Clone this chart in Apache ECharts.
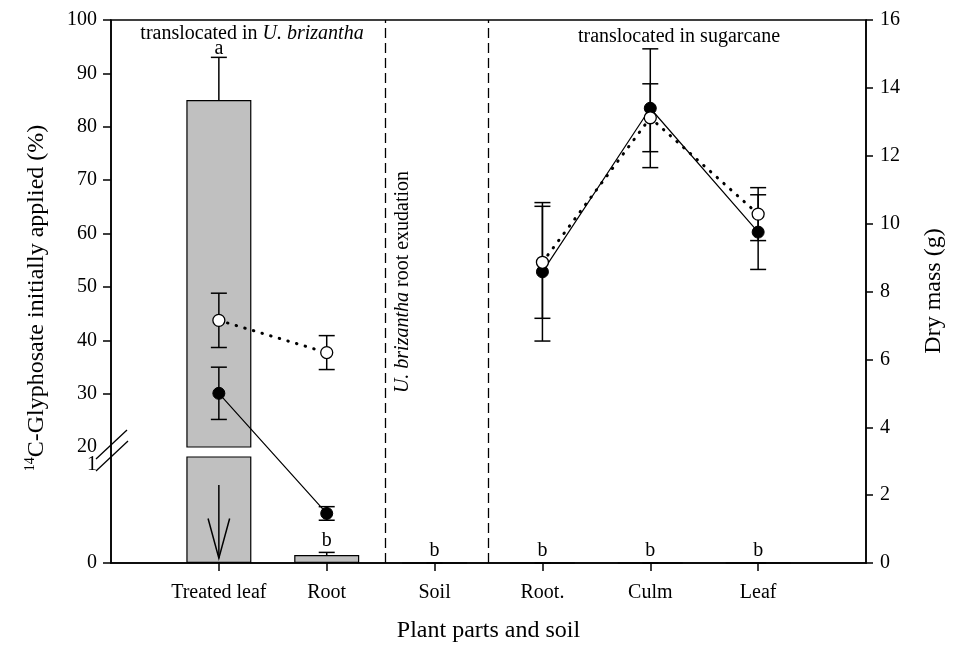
<!DOCTYPE html>
<html>
<head>
<meta charset="utf-8">
<script src="https://cdn.jsdelivr.net/npm/echarts@6/dist/echarts.min.js"></script>
<style>html,body{margin:0;padding:0;background:#fff}#c{width:959px;height:654px}</style>
</head>
<body>
<div id="c"></div>
<script>
// ---- data ----
const categories = ['Treated leaf', 'Root', 'Soil', 'Root.', 'Culm', 'Leaf'];
const pctMean = [85, 0.075, 0, 0, 0, 0];          // 14C-glyphosate (%) bars
const pctErr = [8, 0.025, 0, 0, 0, 0];
const pctLetters = ['a', 'b', 'b', 'b', 'b', 'b'];
const dryClosed = [5.0, 1.46, null, 8.58, 13.40, 9.75];   // dry mass (g), filled circles
const dryClosedErr = [0.77, 0.2, null, 2.04, 1.75, 1.1];
const dryOpen = [7.15, 6.2, null, 8.86, 13.12, 10.28];     // dry mass (g), open circles
const dryOpenErr = [0.8, 0.5, null, 1.65, 1.0, 0.78];
const leftUpperTicks = [20, 30, 40, 50, 60, 70, 80, 90, 100];
const leftLowerTicks = [0, 1];
const rightTicks = [0, 2, 4, 6, 8, 10, 12, 14, 16];

// ---- helpers ----
const FONT = 'Liberation Serif, Times New Roman, serif';
const pos = categories.map((c, i) => i + 1);
const barData = pctMean.map((v, i) => [i + 1, v]);
const pctErrAll = pctMean.map((v, i) => [i + 1, v, pctErr[i], i]);
const pctErrUpper = pctErrAll.filter(d => d[1] >= leftUpperTicks[0]);
const pctErrLower = pctErrAll.filter(d => d[1] < leftLowerTicks[1]);
const toLine = (arr) => arr.map((v, i) => [i + 1, v == null ? '-' : v]);
const toErr = (arr, err) => arr.map((v, i) => v == null ? null : [i + 1, v, err[i]]).filter(Boolean);

const black = '#000';
function pctErrRender(params, api) {
  const x = api.value(0), m = api.value(1), e = api.value(2), idx = api.value(3);
  const b = api.coord([x, m]);
  const t = api.coord([x, m + e]);
  const ls = { stroke: black, lineWidth: 1.5 };
  return {
    type: 'group',
    children: [
      { type: 'line', shape: { x1: b[0], y1: b[1], x2: t[0], y2: t[1] }, style: ls },
      { type: 'line', shape: { x1: t[0] - 8, y1: t[1], x2: t[0] + 8, y2: t[1] }, style: ls },
      { type: 'text', x: t[0], y: t[1] - (e > 1 ? -1 : 2), style: { text: pctLetters[idx], fontSize: 20, fontFamily: FONT, fill: black, align: 'center', verticalAlign: 'bottom' } }
    ]
  };
}
function dryErrRender(params, api) {
  const x = api.value(0), m = api.value(1), e = api.value(2);
  const t = api.coord([x, m + e]);
  const b = api.coord([x, m - e]);
  const ls = { stroke: black, lineWidth: 1.5 };
  return {
    type: 'group',
    children: [
      { type: 'line', shape: { x1: t[0], y1: t[1], x2: b[0], y2: b[1] }, style: ls },
      { type: 'line', shape: { x1: t[0] - 8, y1: t[1], x2: t[0] + 8, y2: t[1] }, style: ls },
      { type: 'line', shape: { x1: b[0] - 8, y1: b[1], x2: b[0] + 8, y2: b[1] }, style: ls }
    ]
  };
}
// down arrow inside the treated-leaf bar (lower segment)
const arrowSpec = [[1, 0.735, 0.045, 0.42, 0.1]];
function arrowRender(params, api) {
  const x = api.value(0), y0 = api.value(1), y1 = api.value(2), yw = api.value(3), dx = api.value(4);
  const a = api.coord([x, y0]), tip = api.coord([x, y1]);
  const l = api.coord([x - dx, yw]), r = api.coord([x + dx, yw]);
  const ls = { stroke: black, lineWidth: 1.5, fill: null };
  return {
    type: 'group',
    children: [
      { type: 'line', shape: { x1: a[0], y1: a[1], x2: tip[0], y2: tip[1] }, style: ls },
      { type: 'polyline', shape: { points: [l, tip, r] }, style: ls }
    ]
  };
}
// axis break marks on the left axis
function breakRender(params, api) {
  const p = api.coord([0, leftLowerTicks[1]]);
  const ls = { stroke: black, lineWidth: 1.3 };
  return {
    type: 'group',
    children: [
      { type: 'line', shape: { x1: p[0] - 15, y1: p[1] + 2, x2: p[0] + 16, y2: p[1] - 27 }, style: ls },
      { type: 'line', shape: { x1: p[0] - 15, y1: p[1] + 14, x2: p[0] + 17, y2: p[1] - 16 }, style: ls }
    ]
  };
}

const axisLineStyle = { color: black, width: 1.5 };
const labelStyle = { color: black, fontSize: 20, fontFamily: FONT };

const option = {
  animation: false,
  backgroundColor: '#fff',
  grid: [
    { left: 111, right: 93, top: 20, bottom: 91, show: true, borderColor: black, borderWidth: 1.5, backgroundColor: 'transparent' },
    { left: 111, right: 93, top: 20, height: 427 },
    { left: 111, right: 93, top: 457, bottom: 91 }
  ],
  xAxis: [
    {
      gridIndex: 0, type: 'value', min: 0, max: categories.length + 1, interval: 1,
      axisLine: { onZero: false, lineStyle: axisLineStyle },
      axisTick: { customValues: pos, length: 8, lineStyle: axisLineStyle },
      axisLabel: Object.assign({ customValues: pos, margin: 20, formatter: v => categories[v - 1] || '' }, labelStyle),
      splitLine: { show: false },
      name: 'Plant parts and soil', nameLocation: 'middle', nameGap: 56,
      nameTextStyle: { color: black, fontSize: 24, fontFamily: FONT }
    },
    { gridIndex: 1, type: 'value', min: 0, max: categories.length + 1, show: false, axisLine: { onZero: false } },
    { gridIndex: 2, type: 'value', min: 0, max: categories.length + 1, show: false, axisLine: { onZero: false } }
  ],
  yAxis: [
    {
      gridIndex: 0, type: 'value', position: 'left', min: 0, max: 1,
      axisLine: { show: true, onZero: false, lineStyle: axisLineStyle },
      axisTick: { show: false }, axisLabel: { show: false }, splitLine: { show: false }
    },
    {
      gridIndex: 0, type: 'value', position: 'right', min: 0, max: 16, interval: 2,
      axisLine: { show: true, onZero: false, lineStyle: axisLineStyle },
      axisTick: { show: true, inside: false, length: 7, lineStyle: axisLineStyle },
      axisLabel: Object.assign({ customValues: rightTicks, margin: 14 }, labelStyle),
      splitLine: { show: false }
    },
    {
      gridIndex: 1, type: 'value', min: 20, max: 100, interval: 10,
      axisLine: { show: false, onZero: false },
      axisTick: { show: true, customValues: leftUpperTicks.slice(1), length: 8, lineStyle: axisLineStyle },
      axisLabel: Object.assign({ customValues: leftUpperTicks, margin: 14 }, labelStyle),
      splitLine: { show: false }
    },
    {
      gridIndex: 2, type: 'value', min: 0, max: 1, interval: 1,
      axisLine: { show: false, onZero: false },
      axisTick: { show: true, customValues: [leftLowerTicks[0]], length: 8, lineStyle: axisLineStyle },
      axisLabel: Object.assign({
        customValues: leftLowerTicks, margin: 14,
        formatter: v => v === leftLowerTicks[1] ? '{lo|' + v + '}' : String(v),
        rich: { lo: { fontSize: 20, fontFamily: FONT, color: black, padding: [16, 0, 0, 0] } }
      }, labelStyle),
      splitLine: { show: false }
    }
  ],
  series: [
    {
      type: 'bar', xAxisIndex: 1, yAxisIndex: 2, data: barData, barWidth: 65, clip: true, z: 2,
      itemStyle: { color: '#c0c0c0', borderColor: black, borderWidth: 1.2 }
    },
    {
      type: 'bar', xAxisIndex: 2, yAxisIndex: 3, data: barData, barWidth: 65, clip: true, z: 2,
      itemStyle: { color: '#c0c0c0', borderColor: black, borderWidth: 1.2 }
    },
    { type: 'custom', xAxisIndex: 1, yAxisIndex: 2, data: pctErrUpper, renderItem: pctErrRender, z: 3, silent: true },
    { type: 'custom', xAxisIndex: 2, yAxisIndex: 3, data: pctErrLower, renderItem: pctErrRender, z: 3, silent: true },
    { type: 'custom', xAxisIndex: 2, yAxisIndex: 3, data: arrowSpec, renderItem: arrowRender, z: 4, silent: true },
    { type: 'custom', xAxisIndex: 2, yAxisIndex: 3, data: [[0, leftLowerTicks[1]]], renderItem: breakRender, z: 10, silent: true, clip: false },
    { type: 'custom', xAxisIndex: 0, yAxisIndex: 1, data: toErr(dryClosed, dryClosedErr), renderItem: dryErrRender, z: 5, silent: true },
    { type: 'custom', xAxisIndex: 0, yAxisIndex: 1, data: toErr(dryOpen, dryOpenErr), renderItem: dryErrRender, z: 5, silent: true },
    {
      type: 'line', name: 'closed', xAxisIndex: 0, yAxisIndex: 1, data: toLine(dryClosed), z: 6,
      symbol: 'circle', symbolSize: 12, showAllSymbol: true,
      lineStyle: { color: black, width: 1.2 },
      itemStyle: { color: black, borderColor: black, borderWidth: 1 },
      markLine: {
        silent: true, symbol: ['none', 'none'], label: { show: false },
        lineStyle: { color: black, width: 1.3, type: [10, 5] },
        data: [{ xAxis: 2.54 }, { xAxis: 3.5 }]
      }
    },
    {
      type: 'line', name: 'open', xAxisIndex: 0, yAxisIndex: 1, data: toLine(dryOpen), z: 7,
      symbol: 'circle', symbolSize: 12, showAllSymbol: true,
      lineStyle: { color: black, width: 3, type: [0.5, 8.5], cap: 'round' },
      itemStyle: { color: '#fff', borderColor: black, borderWidth: 1.3 }
    }
  ],
  graphic: [
    {
      type: 'text', x: 252, y: 34, z: 20,
      style: {
        text: '{n|translocated in }{i|U. brizantha}',
        rich: { n: { fontSize: 20, fontFamily: FONT, fill: black }, i: { fontSize: 20, fontFamily: FONT, fontStyle: 'italic', fill: black } },
        align: 'center', verticalAlign: 'middle', fill: black
      }
    },
    {
      type: 'text', x: 679, y: 37, z: 20,
      style: { text: 'translocated in sugarcane', fontSize: 20, fontFamily: FONT, fill: black, align: 'center', verticalAlign: 'middle' }
    },
    {
      type: 'text', x: 403, y: 282, rotation: Math.PI / 2, z: 20,
      style: {
        text: '{i|U. brizantha}{n| root exudation}',
        rich: { n: { fontSize: 20, fontFamily: FONT, fill: black }, i: { fontSize: 20, fontFamily: FONT, fontStyle: 'italic', fill: black } },
        align: 'center', verticalAlign: 'middle', fill: black
      }
    },
    {
      type: 'text', x: 37, y: 298, rotation: Math.PI / 2, z: 20,
      style: {
        text: '{s|14}{t|C-Glyphosate initially applied (%)}',
        rich: {
          s: { fontSize: 14, fontFamily: FONT, fill: black, verticalAlign: 'top', lineHeight: 28 },
          t: { fontSize: 24, fontFamily: FONT, fill: black, lineHeight: 28 }
        },
        align: 'center', verticalAlign: 'middle', fill: black
      }
    },
    {
      type: 'text', x: 934, y: 291, rotation: Math.PI / 2, z: 20,
      style: { text: 'Dry mass (g)', fontSize: 24, fontFamily: FONT, fill: black, align: 'center', verticalAlign: 'middle' }
    }
  ]
};

const chart = echarts.init(document.getElementById('c'), null, { renderer: 'canvas' });
chart.setOption(option);
</script>
</body>
</html>
